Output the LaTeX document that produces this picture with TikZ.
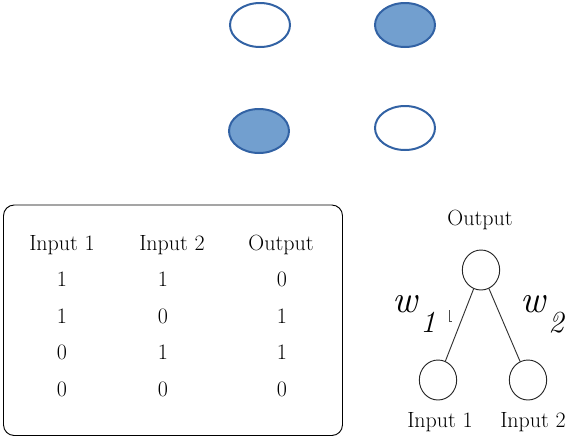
\documentclass[tikz,border=0pt]{standalone}
\usepackage{fontspec}
\usetikzlibrary{shapes.geometric}

\definecolor{cellfill}{RGB}{114,159,207}
\definecolor{cellline}{RGB}{50,98,164}

\tikzset{
    cell/.style={ellipse, draw=cellline, line width=1.5pt, minimum width=45pt, minimum height=33pt, inner sep=0pt},
    unit/.style={ellipse, draw=black!85, line width=0.7pt, minimum width=28pt, minimum height=30pt, inner sep=0pt},
    txt/.style={font=\fontsize{16.5}{16.5}\selectfont\addfontfeature{FakeBold=0.6}, anchor=base, inner sep=0pt},
    wlabel/.style={font=\fontsize{29}{29}\selectfont\itshape, anchor=base, inner sep=0pt},
    wsub/.style={font=\fontsize{23}{23}\selectfont\itshape, anchor=base, inner sep=0pt}
}

\begin{document}
\begin{tikzpicture}[x=0.75pt, y=-0.75pt]
    \useasboundingbox (0, 0) rectangle (571, 440);

    % Draw the four cells of the XOR plane
    \node[cell] (c00) at (260, 25) {};
    \node[cell, fill=cellfill] (c10) at (405, 25) {};
    \node[cell, fill=cellfill] (c01) at (259, 131) {};
    \node[cell] (c11) at (405, 128) {};

    % Draw the truth table box
    \draw[rounded corners=8pt, line width=0.7pt] (3.5, 205) rectangle (342.5, 435.5);

    % Table header
    \node[txt] (h1) at (62, 250) {Input 1};
    \node[txt] (h2) at (172, 250) {Input 2};
    \node[txt] (h3) at (281, 250) {Output};

    % Table rows
    \foreach \a/\b/\c [count=\i] in {1/1/0, 1/0/1, 0/1/1, 0/0/0} {
        \node[txt] (r\i a) at (62, 250+36.6*\i) {\a};
        \node[txt] (r\i b) at (163, 250+36.6*\i) {\b};
        \node[txt] (r\i c) at (282, 250+36.6*\i) {\c};
    }

    % Draw the small network
    \node[unit] (out) at (481, 270) {};
    \node[unit] (in1) at (438, 380) {};
    \node[unit] (in2) at (528, 380) {};
    \draw[black!80, line width=0.7pt] (out) -- (in1);
    \draw[black!80, line width=0.7pt] (out) -- (in2);

    % Unit labels
    \node[txt] (lout) at (480, 225) {Output};
    \node[txt] (lin1) at (440, 427) {Input 1};
    \node[txt] (lin2) at (533, 427) {Input 2};

    % Weights
    \node[wlabel] (w1) at (405, 312) {w};
    \node[wsub] (w1s) at (428, 332) {1};
    \node[wlabel] (w2) at (533, 312) {w};
    \node[wsub] (w2s) at (556, 332) {2};

    % small tick beside the left edge
    \draw[black!70, line width=0.5pt] (449, 310) -- (449, 321) -- (451.5, 321);
\end{tikzpicture}
\end{document}
